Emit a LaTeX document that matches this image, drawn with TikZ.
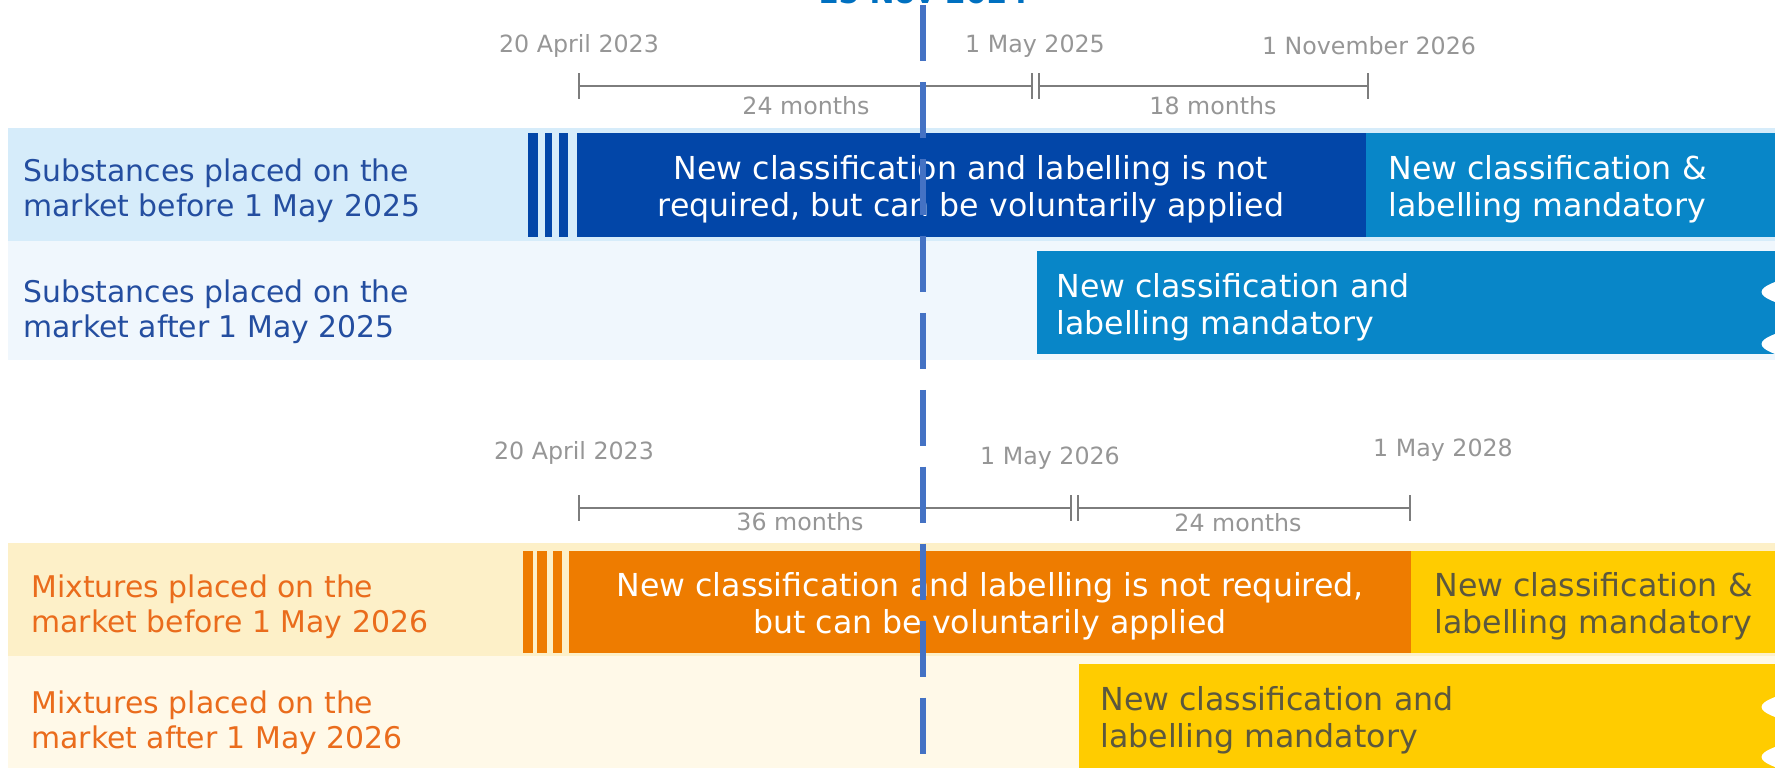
\documentclass[tikz,border=0pt]{standalone}
\usepackage{fontspec}
\setmainfont{DejaVu Sans}
\usetikzlibrary{positioning}
\tikzset{>=latex}
\definecolor{subsdark}{RGB}{2,70,168}
\definecolor{subsmid}{RGB}{8,134,200}
\definecolor{subsband}{RGB}{214,236,250}
\definecolor{subspale}{RGB}{240,247,253}
\definecolor{substext}{RGB}{36,78,160}
\definecolor{mixorange}{RGB}{238,124,0}
\definecolor{mixyellow}{RGB}{255,204,0}
\definecolor{mixband}{RGB}{253,240,200}
\definecolor{mixpale}{RGB}{255,249,232}
\definecolor{mixtext}{RGB}{234,108,28}
\definecolor{mixdark}{RGB}{92,88,62}
\definecolor{tlgrey}{RGB}{125,125,125}
\definecolor{dategrey}{RGB}{150,150,150}
\definecolor{todayblue}{RGB}{68,114,196}
\definecolor{labelblue}{RGB}{0,112,192}
\newcommand{\bodysize}{\fontsize{17pt}{20pt}\selectfont}
\newcommand{\blocksize}{\fontsize{18pt}{21pt}\selectfont}
\newcommand{\datesize}{\fontsize{13.5pt}{16pt}\selectfont}
\tikzset{todayline/.style={dash pattern=on 31.9pt off 11.9pt}}
\def\todaythickness{3.7pt}
\def\spanthickness{1.6pt}

\begin{document}
\begin{tikzpicture}[x=0.02cm, y=-0.02cm,
    rowtext/.style={anchor=west, align=left, font=\bodysize, inner sep=0pt},
    blockleft/.style={anchor=west, align=left, font=\blocksize, inner sep=0pt},
    blocktext/.style={align=center, font=\blocksize, inner sep=0pt, text=white},
    datetext/.style={font=\datesize, text=dategrey, inner sep=0pt},
    tlmark/.style={draw=tlgrey, line width=1pt}]
    \useasboundingbox (0,0) rectangle (1775,768);
    \clip (0,0) rectangle (1775,768);

    % substances: time span
    \coordinate (s0) at (579, 86);
    \coordinate (s1a) at (1032, 86);
    \coordinate (s1b) at (1039, 86);
    \coordinate (s2) at (1368, 86);
    \draw[tlgrey, line width=\spanthickness] (s0) -- (s1a);
    \draw[tlgrey, line width=\spanthickness] (s1b) -- (s2);
    \draw[tlmark] (s0) ++(0,-13) -- ++(0,26);
    \draw[tlmark] (s1a) ++(0,-13) -- ++(0,26);
    \draw[tlmark] (s1b) ++(0,-13) -- ++(0,26);
    \draw[tlmark] (s2) ++(0,-13) -- ++(0,26);
    \node[datetext] at (579, 46) (sd0) {20 April 2023};
    \node[datetext] at (1035, 46) (sd1) {1 May 2025};
    \node[datetext] at (1369, 46) (sd2) {1 November 2026};
    \node[datetext] at (806, 106) (sp1) {24 months};
    \node[datetext] at (1213, 106) (sp2) {18 months};

    % substances: rows
    \fill[subsband] (8, 128) rectangle (1775, 241);
    \fill[subspale] (8, 241) rectangle (1775, 360);
    \fill[subsdark] (528, 133) rectangle (538, 237);
    \fill[subsdark] (545, 133) rectangle (552, 237);
    \fill[subsdark] (559, 133) rectangle (568, 237);
    \fill[subsdark] (577, 133) rectangle (1366, 237);
    \fill[subsmid] (1366, 133) rectangle (1775, 237);
    \fill[subsmid] (1037, 251) rectangle (1775, 354);
    \fill[white] (1775, 282) .. controls (1757, 289) and (1757, 295) .. (1775, 302) -- cycle;
    \fill[white] (1775, 334) .. controls (1757, 341) and (1757, 347) .. (1775, 354) -- cycle;
    \node[rowtext, text=substext] at (23, 191) (sbefore) {Substances placed on the\\market before 1 May 2025};
    \node[rowtext, text=substext] at (23, 312) (safter) {Substances placed on the\\market after 1 May 2025};
    \node[blocktext] at (971, 189) (svol) {New classification and labelling is not\\required, but can be voluntarily applied};
    \node[blockleft, text=white] at (1388, 189) (smand) {New classification \&\\labelling mandatory};
    \node[blockleft, text=white] at (1056, 307) (snew) {New classification and\\labelling mandatory};

    % mixtures: time span
    \coordinate (m0) at (579, 508);
    \coordinate (m1a) at (1071, 508);
    \coordinate (m1b) at (1078, 508);
    \coordinate (m2) at (1410, 508);
    \draw[tlgrey, line width=\spanthickness] (m0) -- (m1a);
    \draw[tlgrey, line width=\spanthickness] (m1b) -- (m2);
    \draw[tlmark] (m0) ++(0,-13) -- ++(0,26);
    \draw[tlmark] (m1a) ++(0,-13) -- ++(0,26);
    \draw[tlmark] (m1b) ++(0,-13) -- ++(0,26);
    \draw[tlmark] (m2) ++(0,-13) -- ++(0,26);
    \node[datetext] at (574, 453) (md0) {20 April 2023};
    \node[datetext] at (1050, 458) (md1) {1 May 2026};
    \node[datetext] at (1443, 450) (md2) {1 May 2028};
    \node[datetext] at (800, 522) (mp1) {36 months};
    \node[datetext] at (1238, 523) (mp2) {24 months};

    % mixtures: rows
    \fill[mixband] (8, 543) rectangle (1775, 656);
    \fill[mixpale] (8, 656) rectangle (1775, 768);
    \fill[mixorange] (523, 551) rectangle (533, 653);
    \fill[mixorange] (537, 551) rectangle (547, 653);
    \fill[mixorange] (553, 551) rectangle (562, 653);
    \fill[mixorange] (569, 551) rectangle (1411, 653);
    \fill[mixyellow] (1411, 551) rectangle (1775, 653);
    \fill[mixyellow] (1079, 664) rectangle (1775, 768);
    \fill[white] (1775, 697) .. controls (1757, 704) and (1757, 710) .. (1775, 717) -- cycle;
    \fill[white] (1775, 747) .. controls (1757, 754) and (1757, 760) .. (1775, 767) -- cycle;
    \node[rowtext, text=mixtext] at (31, 607) (mbefore) {Mixtures placed on the\\market before 1 May 2026};
    \node[rowtext, text=mixtext] at (31, 723) (mafter) {Mixtures placed on the\\market after 1 May 2026};
    \node[blocktext] at (990, 606) (mvol) {New classification and labelling is not required,\\but can be voluntarily applied};
    \node[blockleft, text=mixdark] at (1434, 606) (mmand) {New classification \&\\labelling mandatory};
    \node[blockleft, text=mixdark] at (1100, 720) (mnew) {New classification and\\labelling mandatory};

    % today marker
    \node[font=\fontsize{17pt}{20pt}\bfseries, text=labelblue, anchor=base, inner sep=0pt] at (923, 3) (today) {15 Nov 2024};
    \coordinate (ttop) at (923, 5);
    \coordinate (tbot) at (923, 768);
    \draw[todayblue, line width=\todaythickness, todayline] (ttop) -- (tbot);
\end{tikzpicture}
\end{document}
